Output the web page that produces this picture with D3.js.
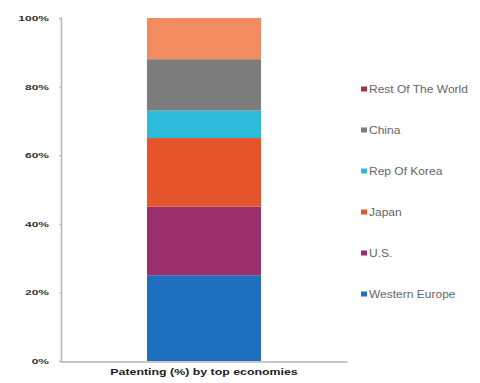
<!DOCTYPE html>
<html><head><meta charset="utf-8">
<script src="https://cdn.jsdelivr.net/npm/d3@7"></script>
<style>body{margin:0;background:#fff}svg{display:block}</style>
</head><body><div id="c"></div>
<script>
const category = ["Patenting (%) by top economies"];
const seriesNames = ["Western Europe","U.S.","Japan","Rep Of Korea","China","Rest Of The World"];
const seriesValues = [25, 20, 20, 8, 15, 12];
const barColors = ["#1f6fbf","#9a2f6c","#e5542b","#2cbcd9","#7d7d7d","#f38b60"];
const legendColors = ["#1f6fbf","#9a2f6c","#e5542b","#2cbcd9","#7d7d7d","#a8303f"];
const tickValues = [0,20,40,60,80,100];

const W=480,H=383;
const FONT="Liberation Sans, Arial, sans-serif";
const svg=d3.select("#c").append("svg").attr("width",W).attr("height",H);
const y=d3.scaleLinear().domain([0,100]).range([361,18]);
const x=d3.scaleBand().domain(category).range([61,347]).paddingInner(0).paddingOuter(0.3);

function stretch(sel,f){
  sel.each(function(){const l=this.getComputedTextLength();
    d3.select(this).attr("textLength",l*f).attr("lengthAdjust","spacingAndGlyphs");});
}

// bars
let acc=0;
const stacked=seriesValues.map((v,i)=>{const s={name:seriesNames[i],y0:acc,y1:acc+v,c:barColors[i]};acc+=v;return s;});
const bw=114;
svg.selectAll("rect.seg").data(stacked).join("rect").attr("class","seg")
 .attr("x",x(category[0])+x.bandwidth()/2-bw/2).attr("width",bw)
 .attr("y",d=>y(d.y1)).attr("height",d=>y(d.y0)-y(d.y1)).attr("fill",d=>d.c);

// y axis
const ya=svg.append("g").attr("transform","translate(61,0)")
 .call(d3.axisLeft(y).tickValues(tickValues).tickFormat(d=>d+"%").tickSize(2).tickPadding(10));
ya.select(".domain").attr("stroke","#b5b5b5").attr("stroke-width",1.5);
ya.selectAll(".tick line").attr("stroke","#b5b5b5");
ya.selectAll("text").attr("font-family",FONT).attr("font-size",7.5).attr("font-weight","bold").attr("fill","#333");
stretch(ya.selectAll("text"),1.6);

// x axis
const xa=svg.append("g").attr("transform","translate(0,361.5)")
 .call(d3.axisBottom(x).tickSize(0).tickPadding(7));
xa.select(".domain").attr("stroke","#b5b5b5").attr("stroke-width",1.5);
xa.selectAll("text").attr("font-family",FONT).attr("font-size",9.5).attr("font-weight","bold").attr("fill","#222");
stretch(xa.selectAll("text"),1.3);

// legend
const legendY=[294,253,212,171,130,89];
const lg=svg.append("g");
seriesNames.forEach((n,i)=>{
  lg.append("rect").attr("x",361).attr("y",legendY[i]-2.5).attr("width",6).attr("height",5).attr("fill",legendColors[i]);
  lg.append("text").attr("x",369).attr("y",legendY[i]).attr("dy","0.35em").text(n)
   .attr("font-family",FONT).attr("font-size",10).attr("fill","#666");
});
stretch(lg.selectAll("text"),1.2);
</script></body></html>
